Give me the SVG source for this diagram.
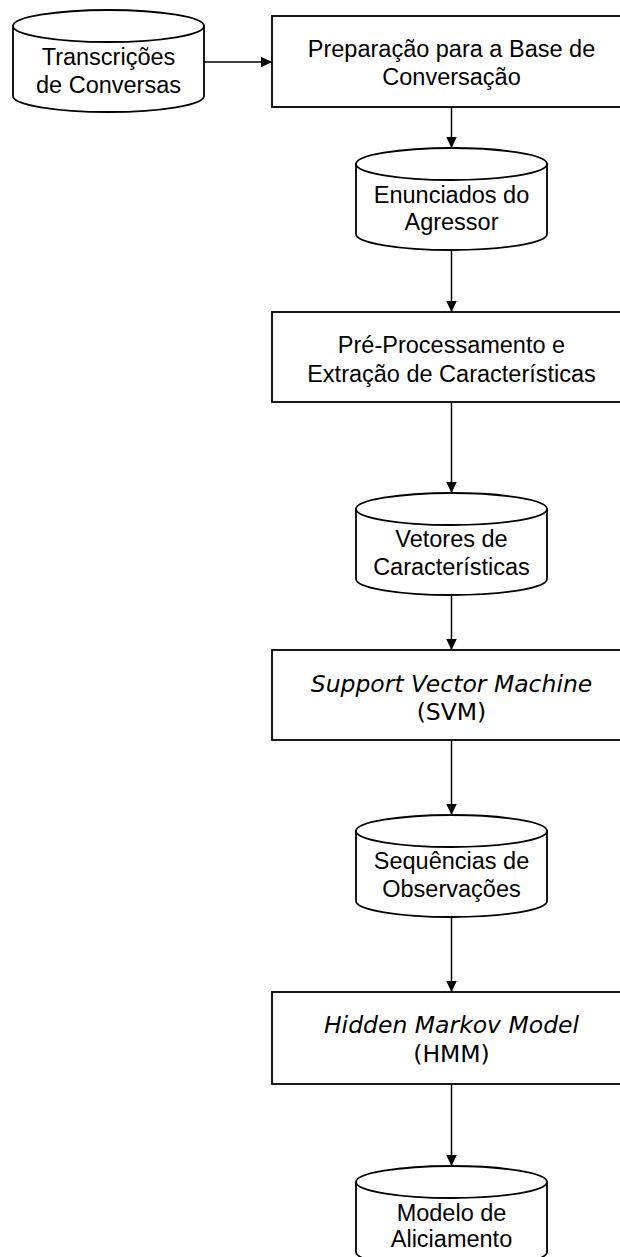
<svg xmlns="http://www.w3.org/2000/svg" xmlns:xlink="http://www.w3.org/1999/xlink" width="620" height="1257" viewBox="0 0 620 1257">
  <style>
    .shape { fill: #ffffff; stroke: #000000; stroke-width: 1.8; }
    .edge { fill: none; stroke: #000000; stroke-width: 1.5; marker-end: url(#arrow); }
    .lbl { font-family: "Liberation Sans", Arial, sans-serif; font-size: 23.5px; fill: #000000; text-anchor: middle; }
    .lbl2 { font-family: "DejaVu Sans", Verdana, sans-serif; font-size: 23.5px; fill: #000000; text-anchor: middle; }
    .it { font-style: italic; }
  </style>
  <defs>
    <marker id="arrow" markerUnits="userSpaceOnUse" markerWidth="13" markerHeight="13" refX="11.5" refY="6" orient="auto">
      <path d="M0,0.5 L11.5,6 L0,11.5 Z" fill="#000000"/>
    </marker>
    <!-- database cylinder, 191 x 102 -->
    <g id="db">
      <path class="shape" d="M0,16 V86 A95.5,16 0 0 0 191,86 V16 Z"/>
      <ellipse class="shape" cx="95.5" cy="16" rx="95.5" ry="16"/>
    </g>
  </defs>

  <rect width="620" height="1257" fill="#ffffff"/>

  <!-- connectors -->
  <g id="connectors">
    <path class="edge" d="M204,62 H272"/>
    <path class="edge" d="M451.5,107 V148"/>
    <path class="edge" d="M451.5,250 V312"/>
    <path class="edge" d="M451.5,402 V493"/>
    <path class="edge" d="M451.5,595 V650"/>
    <path class="edge" d="M451.5,740 V815"/>
    <path class="edge" d="M451.5,917 V992"/>
    <path class="edge" d="M451.5,1084 V1166"/>
  </g>

  <g id="transcricoes">
    <use href="#db" xlink:href="#db" x="13" y="10"/>
    <text class="lbl" x="108.5" y="65">Transcrições</text>
    <text class="lbl" x="108.5" y="93">de Conversas</text>
  </g>

  <g id="preparacao">
    <rect class="shape" x="272" y="16" width="359" height="91"/>
    <text class="lbl" x="451.5" y="57">Preparação para a Base de</text>
    <text class="lbl" x="451.5" y="85">Conversação</text>
  </g>

  <g id="enunciados">
    <use href="#db" xlink:href="#db" x="356" y="148"/>
    <text class="lbl" x="451.5" y="203">Enunciados do</text>
    <text class="lbl" x="451.5" y="230">Agressor</text>
  </g>

  <g id="preprocessamento">
    <rect class="shape" x="272" y="312" width="359" height="90"/>
    <text class="lbl" x="451.5" y="353">Pré-Processamento e</text>
    <text class="lbl" x="451.5" y="382">Extração de Características</text>
  </g>

  <g id="vetores">
    <use href="#db" xlink:href="#db" x="356" y="493"/>
    <text class="lbl" x="451.5" y="547">Vetores de</text>
    <text class="lbl" x="451.5" y="575">Características</text>
  </g>

  <g id="svm">
    <rect class="shape" x="272" y="650" width="359" height="90"/>
    <text class="lbl2 it" x="451.5" y="692">Support Vector Machine</text>
    <text class="lbl2" x="451.5" y="720">(SVM)</text>
  </g>

  <g id="sequencias">
    <use href="#db" xlink:href="#db" x="356" y="815"/>
    <text class="lbl" x="451.5" y="869">Sequências de</text>
    <text class="lbl" x="451.5" y="897">Observações</text>
  </g>

  <g id="hmm">
    <rect class="shape" x="272" y="992" width="359" height="92"/>
    <text class="lbl2 it" x="451.5" y="1033">Hidden Markov Model</text>
    <text class="lbl2" x="451.5" y="1062">(HMM)</text>
  </g>

  <g id="aliciamento">
    <use href="#db" xlink:href="#db" x="356" y="1166"/>
    <text class="lbl" x="451.5" y="1221">Modelo de</text>
    <text class="lbl" x="451.5" y="1247">Aliciamento</text>
  </g>
</svg>
